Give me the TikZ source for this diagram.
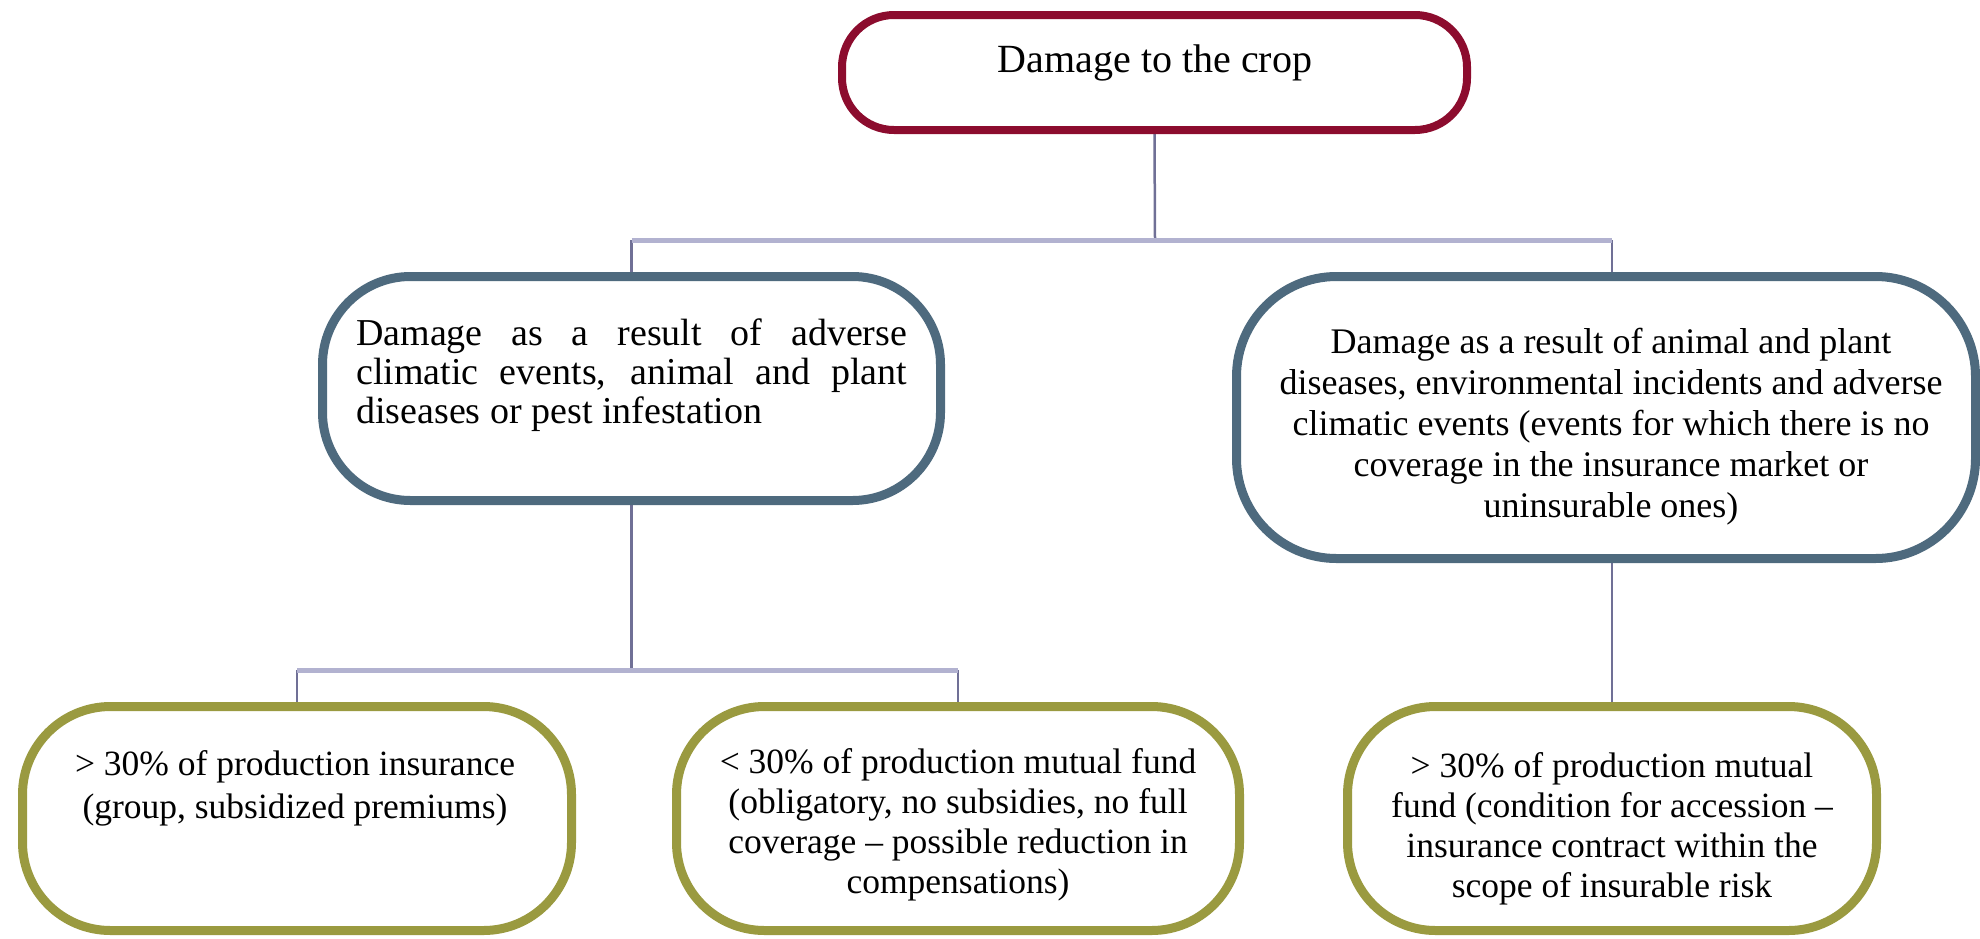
\documentclass[tikz,border=0pt]{standalone}
\usepackage{fontspec}
\setmainfont{Liberation Serif}
\usetikzlibrary{backgrounds}
\definecolor{topred}{RGB}{140,12,46}
\definecolor{midblue}{RGB}{78,106,126}
\definecolor{botolive}{RGB}{154,154,64}
\definecolor{buscol}{RGB}{178,178,208}
\definecolor{conncol}{RGB}{112,112,150}
\begin{document}
\begin{tikzpicture}[x=1pt,y=-1pt,
  shapebox/.style={draw, fill=white, inner sep=0pt},
  topbox/.style={shapebox, draw=topred, line width=8pt, rounded corners=52pt},
  midbox/.style={shapebox, draw=midblue, line width=9pt, rounded corners=#1},
  botbox/.style={shapebox, draw=botolive, line width=9pt, rounded corners=88pt, minimum height=224pt},
  txt/.style={inner sep=0pt, font=\fontsize{#1}{#1}\selectfont},
  bus/.style={draw=buscol, line width=5pt},
  conn/.style={draw=conncol, line width=2.5pt}]
\useasboundingbox (0,0) rectangle (1980,938);

% boxes
\node[topbox, minimum width=625pt, minimum height=115pt] (top) at (1154.5,72.5) {};
\node[midbox=88pt, minimum width=618pt, minimum height=224pt] (lmid) at (631.5,388.5) {};
\node[midbox=100pt, minimum width=739pt, minimum height=282pt] (rmid) at (1606,417.5) {};
\node[botbox, minimum width=549pt] (lbot) at (297,818.5) {};
\node[botbox, minimum width=563pt] (mbot) at (958,818.5) {};
\node[botbox, minimum width=529pt] (rbot) at (1612,818.5) {};

% texts
\node[txt=40, anchor=base] (ttop) at (1155,72) {Damage to the crop};
\node[txt=38, anchor=north west, align=left, font=\fontsize{38}{39}\selectfont] (tlmid) at (356,319)
  {\makebox[551pt][s]{Damage as a result of adverse}\\
   \makebox[551pt][s]{climatic events, animal and plant}\\
   diseases or pest infestation};
\node[txt=36, anchor=north, align=center, font=\fontsize{36}{41}\selectfont] (trmid) at (1611,328)
  {Damage as a result of animal and plant\\
   diseases, environmental incidents and adverse\\
   climatic events (events for which there is no\\
   coverage in the insurance market or\\
   uninsurable ones)};
\node[txt=35.5, anchor=north, align=center, font=\fontsize{35.5}{43}\selectfont] (tlbot) at (295,750)
  {> 30\% of production insurance\\
   (group, subsidized premiums)};
\node[txt=35.5, anchor=north, align=center, font=\fontsize{35.5}{40}\selectfont] (tmbot) at (958,748)
  {< 30\% of production mutual fund\\
   (obligatory, no subsidies, no full\\
   coverage – possible reduction in\\
   compensations)};
\node[txt=35.5, anchor=north, align=center, font=\fontsize{35.5}{40}\selectfont] (trbot) at (1612,752)
  {> 30\% of production mutual\\
   fund (condition for accession –\\
   insurance contract within the\\
   scope of insurable risk};

% connectors
\coordinate (j0) at (1155,240);
\coordinate (jl) at (631.5,240);
\coordinate (jr) at (1612,240);
\coordinate (k0) at (631.5,670);
\coordinate (kl) at (297,670);
\coordinate (kr) at (958,670);
\begin{scope}[on background layer]
  \draw[conn] (top.south) -- (j0);
  \draw[conn] (jl) -- (lmid.north);
  \draw[conn] (jr) -- (jr |- rmid.north);
  \draw[bus] (jl) -- (jr);
  \draw[conn] (lmid.south) -- (k0);
  \draw[conn] (kl) -- (lbot.north);
  \draw[conn] (kr) -- (mbot.north);
  \draw[bus] (kl) -- (kr);
  \draw[conn] (rbot.north |- rmid.south) -- (rbot.north);
\end{scope}
\end{tikzpicture}
\end{document}
